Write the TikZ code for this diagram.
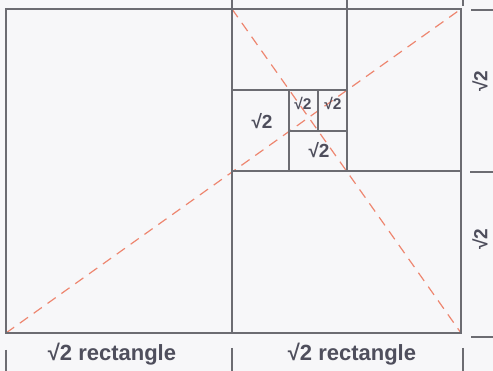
\documentclass[tikz,border=0pt]{standalone}
\usepackage{fontspec}
\setsansfont{Liberation Sans}
\definecolor{paper}{RGB}{247, 247, 249}
\definecolor{edgegray}{RGB}{108, 108, 114}
\definecolor{inkgray}{RGB}{78, 78, 92}
\definecolor{salmon}{RGB}{238, 134, 112}
\usetikzlibrary{calc}
\tikzset{
	frame/.style={draw=edgegray, line width=1.8pt},
	split/.style={draw=edgegray, line width=1.4pt},
	tick/.style={draw=edgegray, line width=1.3pt},
	diag/.style={draw=salmon, line width=1.2pt, dash pattern=on 10pt off 7pt},
	rootlbl/.style={text=inkgray, font=\sffamily\bfseries\fontsize{19}{19}\selectfont, inner sep=0pt},
	smallroot/.style={text=inkgray, font=\sffamily\bfseries\fontsize{15.5}{15.5}\selectfont, inner sep=0pt},
	caption/.style={text=inkgray, font=\sffamily\bfseries\fontsize{22}{22}\selectfont, inner sep=0pt},
}

\begin{document}
\begin{tikzpicture}[x=1pt, y=-1pt]
		\useasboundingbox (0,0) rectangle (493,371);
		\fill[paper] (0,0) rectangle (493,371);
		% corners of the whole sheet and of the nested rectangles
		\coordinate (bl) at (6,333);
		\coordinate (tl) at (6,9);
		\coordinate (tr) at (461,9);
		\coordinate (br) at (461,333);
		\coordinate (midtop) at (232,9);
		\coordinate (midbot) at (232,333);
		\coordinate (qleft) at (232,171);
		\coordinate (qright) at (461,171);
		\coordinate (etop) at (347,9);
		\coordinate (ebot) at (347,171);
		\coordinate (sleft) at (232,90);
		\coordinate (sright) at (347,90);
		\coordinate (ttop) at (289,90);
		\coordinate (tbot) at (289,171);
		\coordinate (uleft) at (289,131);
		\coordinate (uright) at (347,131);
		\coordinate (vtop) at (318,90);
		\coordinate (vbot) at (318,131);
		% diagonals
		\draw[diag] (bl) -- (tr);
		\draw[diag] (midtop) -- (br);
		% rectangles
		\draw[frame] (bl) rectangle (tr);
		\draw[split] (midtop) -- (midbot);
		\draw[split] (qleft) -- (qright);
		\draw[split] (etop) -- (ebot);
		\draw[split] (sleft) -- (sright);
		\draw[split] (ttop) -- (tbot);
		\draw[split] (uleft) -- (uright);
		\draw[split] (vtop) -- (vbot);
		% dimension ticks
		\coordinate (topA) at (232,0);
		\coordinate (topB) at (347,0);
		\coordinate (topC) at (463,0);
		\coordinate (topCe) at (463,6);
		\draw[tick] (topA) -- (midtop);
		\draw[tick] (topB) -- (etop);
		\draw[tick] (topC) -- (topCe);
		\foreach \yy/\xx in {10/471, 172/470, 337/471}
			\draw[tick] (\xx,\yy) -- (493,\yy);
		\foreach \xx/\yy in {6/350, 232/348, 463/348}
			\draw[tick] (\xx,\yy) -- (\xx,371);
		% labels
		\node[rootlbl] (bigroot) at (262,121) {√2};
		\node[smallroot] (rootA) at (303,103) {√2};
		\node[smallroot] (rootB) at (333,103) {√2};
		\node[rootlbl] (rootC) at (319,150) {√2};
		\node[rootlbl, rotate=90] (sideA) at (480,81) {√2};
		\node[rootlbl, rotate=90] (sideB) at (480,239) {√2};
		\node[caption] (capA) at (112,354) {√2 rectangle};
		\node[caption] (capB) at (352,354) {√2 rectangle};
	\end{tikzpicture}
\end{document}
